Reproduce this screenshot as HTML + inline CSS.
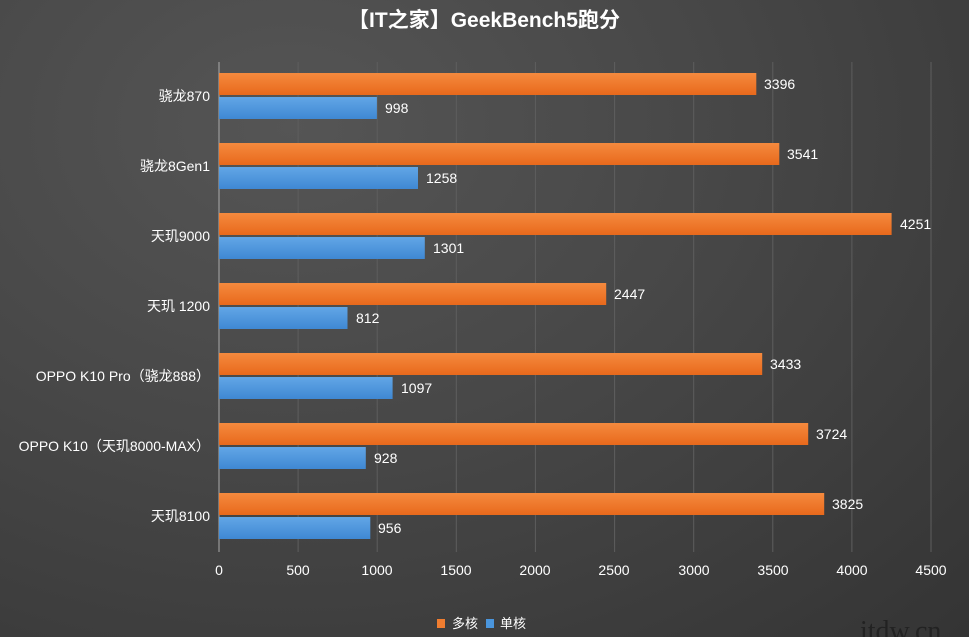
<!DOCTYPE html>
<html><head><meta charset="utf-8"><style>
html,body{margin:0;padding:0;overflow:hidden}
body{width:969px;height:637px;background:radial-gradient(ellipse at 30% 20%,#555 0%,#474747 45%,#343434 100%);font-family:"Liberation Sans","Noto Sans CJK SC",sans-serif}
svg{display:block}
</style></head><body>
<svg width="969" height="637" xmlns="http://www.w3.org/2000/svg" font-family="Liberation Sans, Noto Sans CJK SC, sans-serif">
<defs>
<linearGradient id="o" x1="0" y1="0" x2="0" y2="1"><stop offset="0" stop-color="#f58a3e"/><stop offset="1" stop-color="#e8691c"/></linearGradient>
<linearGradient id="b" x1="0" y1="0" x2="0" y2="1"><stop offset="0" stop-color="#62a6e6"/><stop offset="1" stop-color="#3f88d3"/></linearGradient>
</defs>
<text x="484" y="27" text-anchor="middle" fill="#fff" font-size="21" font-weight="bold">【IT之家】GeekBench5跑分</text>
<g stroke="#5e5e5e" stroke-width="1">
<line x1="298.1" y1="62" x2="298.1" y2="552"/><line x1="377.2" y1="62" x2="377.2" y2="552"/><line x1="456.3" y1="62" x2="456.3" y2="552"/><line x1="535.4" y1="62" x2="535.4" y2="552"/><line x1="614.6" y1="62" x2="614.6" y2="552"/><line x1="693.7" y1="62" x2="693.7" y2="552"/><line x1="772.8" y1="62" x2="772.8" y2="552"/><line x1="851.9" y1="62" x2="851.9" y2="552"/><line x1="931" y1="62" x2="931" y2="552"/>
</g>
<line x1="219" y1="62" x2="219" y2="552" stroke="#aaa" stroke-width="1"/>
<g fill="#fff" font-size="14" text-anchor="middle">
<text x="219" y="575">0</text><text x="298" y="575">500</text><text x="377" y="575">1000</text><text x="456" y="575">1500</text><text x="535" y="575">2000</text><text x="614" y="575">2500</text><text x="694" y="575">3000</text><text x="773" y="575">3500</text><text x="852" y="575">4000</text><text x="931" y="575">4500</text>
</g>
<g>
<rect x="219" y="73" width="537.3" height="22" fill="url(#o)"/><rect x="219" y="97" width="157.9" height="22" fill="url(#b)"/>
<rect x="219" y="143" width="560.3" height="22" fill="url(#o)"/><rect x="219" y="167" width="199.0" height="22" fill="url(#b)"/>
<rect x="219" y="213" width="672.6" height="22" fill="url(#o)"/><rect x="219" y="237" width="205.8" height="22" fill="url(#b)"/>
<rect x="219" y="283" width="387.2" height="22" fill="url(#o)"/><rect x="219" y="307" width="128.5" height="22" fill="url(#b)"/>
<rect x="219" y="353" width="543.2" height="22" fill="url(#o)"/><rect x="219" y="377" width="173.6" height="22" fill="url(#b)"/>
<rect x="219" y="423" width="589.2" height="22" fill="url(#o)"/><rect x="219" y="447" width="146.8" height="22" fill="url(#b)"/>
<rect x="219" y="493" width="605.2" height="22" fill="url(#o)"/><rect x="219" y="517" width="151.3" height="22" fill="url(#b)"/>
</g>
<g fill="#fff" font-size="14">
<text x="764" y="89">3396</text><text x="385" y="113">998</text>
<text x="787" y="159">3541</text><text x="426" y="183">1258</text>
<text x="900" y="229">4251</text><text x="433" y="253">1301</text>
<text x="614" y="299">2447</text><text x="356" y="323">812</text>
<text x="770" y="369">3433</text><text x="401" y="393">1097</text>
<text x="816" y="439">3724</text><text x="374" y="463">928</text>
<text x="832" y="509">3825</text><text x="378" y="533">956</text>
</g>
<g fill="#fff" font-size="14" text-anchor="end">
<text x="210" y="101">骁龙870</text>
<text x="210" y="171">骁龙8Gen1</text>
<text x="210" y="241">天玑9000</text>
<text x="210" y="311">天玑 1200</text>
<text x="210" y="381">OPPO K10 Pro（骁龙888）</text>
<text x="210" y="451">OPPO K10（天玑8000-MAX）</text>
<text x="210" y="521">天玑8100</text>
</g>
<g>
<rect x="437" y="619" width="8" height="9" fill="#f07d30"/><text x="452" y="628" fill="#fff" font-size="13">多核</text>
<rect x="486" y="619" width="8" height="9" fill="#4a95dc"/><text x="500" y="628" fill="#fff" font-size="13">单核</text>
</g>
<text x="860" y="640" fill="#222" font-size="28" font-family="Liberation Serif, serif">itdw.cn</text>
</svg>
</body></html>
